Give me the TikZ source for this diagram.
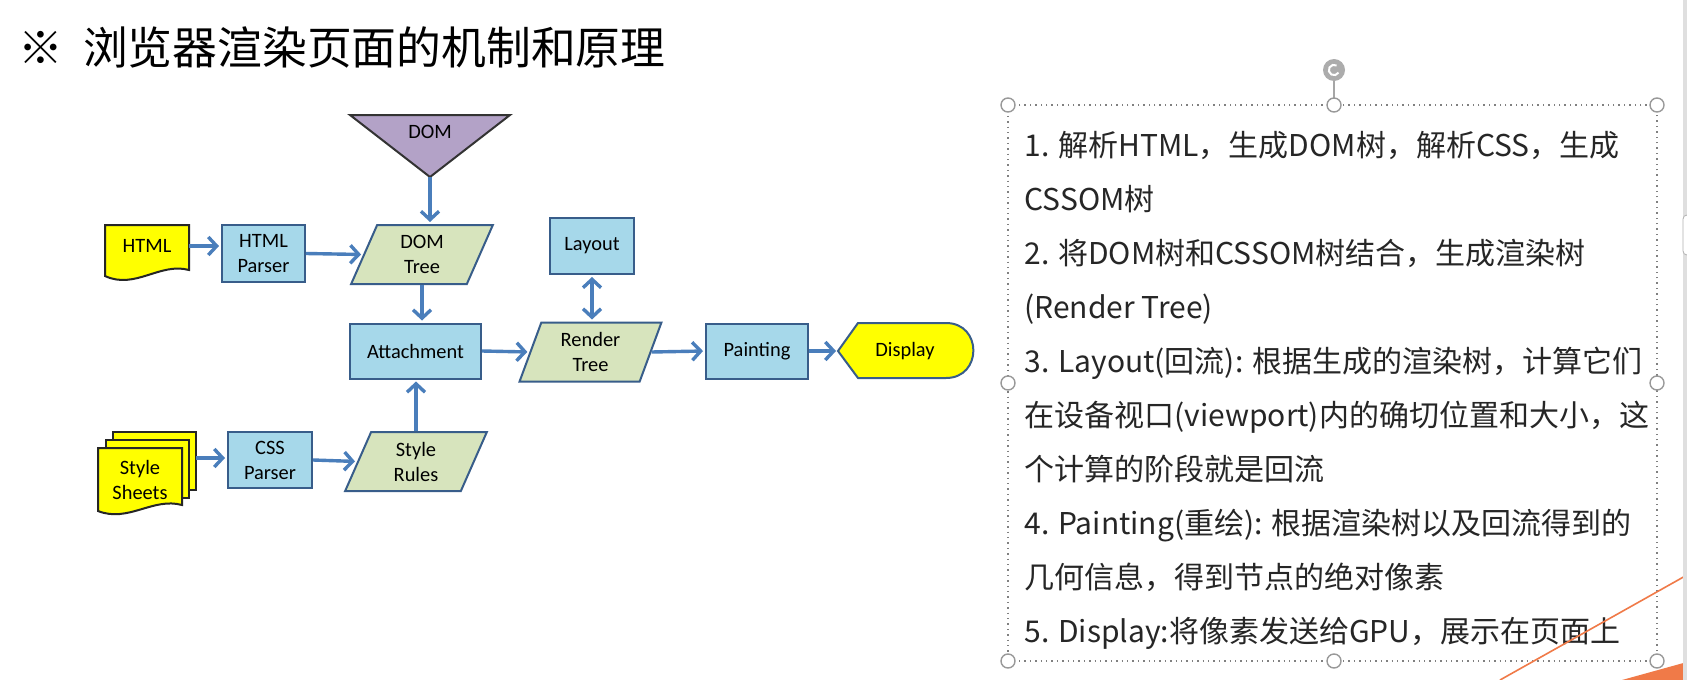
\documentclass[tikz,border=0pt]{standalone}
\usepackage{fontspec}
\setmainfont{Carlito}
\newfontfamily\cjk{Noto Sans CJK SC}
\usetikzlibrary{shapes.geometric,arrows.meta}
\definecolor{boxblue}{RGB}{166,216,234}
\definecolor{boxline}{RGB}{56,93,138}
\definecolor{paragreen}{RGB}{215,228,189}
\definecolor{flowblue}{RGB}{74,126,187}
\definecolor{dompurple}{RGB}{179,162,199}
\definecolor{docyellow}{RGB}{255,255,0}
\definecolor{slideorange}{RGB}{240,122,72}
\newcommand{\fs}{\fontsize{10.2}{12.5}\selectfont}

\begin{document}
\begin{tikzpicture}[x=0.5pt,y=-0.5pt,
  box/.style={draw=boxline,fill=boxblue,line width=1pt,font=\fs,align=center,inner sep=1pt},
  para/.style={trapezium,trapezium left angle=72,trapezium right angle=108,trapezium stretches=true,
    draw=boxline,fill=paragreen,line width=1pt,font=\fs,align=center,minimum height=29.5pt,minimum width=71pt,inner sep=1pt},
  txt/.style={font=\fs,align=center},
  docfill/.style={draw=black!85,fill=docyellow,line width=1pt},
  flow/.style={draw=flowblue,line width=1.7pt,-{Straight Barb[length=4.2pt,width=9pt]},shorten >=1pt},
  note/.style={anchor=base west,inner sep=0pt,font=\cjk\fontsize{15}{18}\selectfont,text=black!85},
  handle/.style={draw=gray!80,fill=white,line width=0.7pt}]
  \fill[white] (0,0) rectangle (1687,680);
  \useasboundingbox (0,0) rectangle (1687,680);

  % title
  \node[anchor=base west,inner sep=0pt,font=\cjk\fontsize{22.4}{27}\selectfont] (title) at (18,64)
    {※\hspace{10pt}浏览器渲染页面的机制和原理};

  % shapes with no node outline
  \draw[fill=dompurple,draw=black!80,line width=1pt] (350,115) -- (510,115) -- (430,177) -- cycle;
  \coordinate (domtip) at (430,177);
  \draw[docfill] (105,225) -- (189,225) -- (189,270) .. controls (160,262) and (135,290) .. (105,276) -- cycle;
  \draw[docfill] (113,432) rectangle (196,490);
  \draw[docfill] (106,440) rectangle (189,498);
  \draw[docfill] (98,448) -- (182,448) -- (182,505) .. controls (153,497) and (128,523) .. (98,511) -- cycle;
  \draw[fill=docyellow,draw=boxline,line width=1pt] (838,351) -- (858,323) -- (946,323)
    .. controls (982.5,323) and (982.5,378) .. (946,378) -- (858,378) -- cycle;

  \node[txt] (dom) at (430,132) {DOM};
  \node[txt,minimum width=42pt,minimum height=22pt] (html) at (147,246) {HTML};
  \node[box,minimum width=41.5pt,minimum height=28.5pt] (htmlp) at (263.5,253.5) {HTML\\Parser};
  \node[para] (domtree) at (422,254.5) {DOM\\Tree};
  \node[box,minimum width=42pt,minimum height=28pt] (layout) at (592,246) {Layout};
  \node[box,minimum width=65.5pt,minimum height=27.5pt] (attach) at (415.5,351) {Attachment};
  \node[para] (render) at (590.5,352) {Render\\Tree};
  \node[box,minimum width=51pt,minimum height=27.5pt] (paint) at (757,351) {Painting};
  \node[txt] (disp) at (905,351) {Display};
  \coordinate (disptip) at (838,351);
  \node[txt] (sheets) at (140,480) {Style\\Sheets};
  \coordinate (sheetsout) at (196,458);
  \node[box,minimum width=42pt,minimum height=28pt] (cssp) at (270,460) {CSS\\Parser};
  \node[para] (rules) at (416,461.5) {Style\\Rules};

  \draw[flow] (domtip) -- (domtip |- domtree.north);
  \draw[flow] (html.east) -- (html.east -| htmlp.west);
  \draw[flow] (htmlp.east) -- (domtree.west);
  \draw[flow] (domtree.south) -- (domtree.south |- attach.north);
  \draw[flow] (sheetsout) -- (sheetsout -| cssp.west);
  \draw[flow] (cssp.east) -- (rules.west);
  \draw[flow] (rules.north) -- (rules.north |- attach.south);
  \draw[flow] (attach.east) -- (render.west);
  \draw[flow,{Straight Barb[length=4.2pt,width=9pt]}-{Straight Barb[length=4.2pt,width=9pt]},shorten <=1pt]
    (layout.south) -- (layout.south |- render.north);
  \draw[flow] (render.east) -- (paint.west);
  \draw[flow] (paint.east) -- (disptip);

  % selected text box
  \draw[gray!70,line width=0.7pt] (1334,70) -- (1334,105);
  \fill[gray!65] (1334,70) circle[radius=5.5pt];
  \draw[white,line width=1pt] ([shift={(60:2.6pt)}]1334,70) arc[start angle=60,end angle=330,radius=2.6pt];
  \draw[gray,dotted,line width=0.7pt] (1008,105) rectangle (1657,661);
  \foreach \p in {(1008,105),(1334,105),(1657,105),(1008,383),(1657,383),(1008,661),(1334,661),(1657,661)}
    \draw[handle] \p circle[radius=3.5pt];
  \foreach \t [count=\i from 0] in {{1. 解析HTML，生成DOM树，解析CSS，生成},{CSSOM树},
      {2. 将DOM树和CSSOM树结合，生成渲染树},{(Render Tree)},
      {3. Layout(回流): 根据生成的渲染树，计算它们},{在设备视口(viewport)内的确切位置和大小，这},
      {个计算的阶段就是回流},{4. Painting(重绘): 根据渲染树以及回流得到的},
      {几何信息，得到节点的绝对像素},{5. Display:将像素发送给GPU，展示在页面上}}
    \node[note] (note\i) at (1024,156+54*\i) {\t};

  % slide edge
  \draw[slideorange,line width=0.8pt] (1500,680) -- (1687,575);
  \fill[slideorange] (1622,680) -- (1687,662) -- (1687,680) -- cycle;
  \fill[gray!25] (1683,0) rectangle (1687,680);
  \draw[gray!60,fill=white,rounded corners=2pt] (1683,215) rectangle (1692,255);
\end{tikzpicture}
\end{document}
